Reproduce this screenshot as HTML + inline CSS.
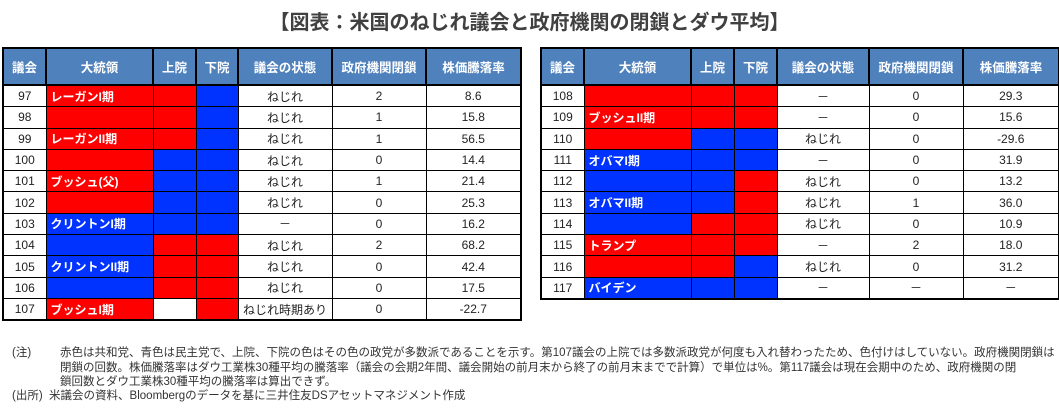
<!DOCTYPE html>
<html><head><meta charset="utf-8"><style>
body{margin:0;width:1059px;height:412px;background:#fff;font-family:"Liberation Sans","Noto Sans CJK JP",sans-serif;position:relative;overflow:hidden}
.title{position:absolute;top:6px;left:0;width:1059px;text-align:center;font-size:20px;font-weight:bold;color:#404040}
table{position:absolute;border-collapse:collapse;table-layout:fixed;font-size:12px;color:#222}
td,th{border:1px solid #000;height:20.3px;padding:0;text-align:center;overflow:hidden;white-space:nowrap}
th{background:#4f81bd;color:#fff;height:35px;font-weight:bold;font-size:12.5px;border:2px solid #000}
.R{background:#ff0000}.B{background:#0033ff}
.p{text-align:left!important;padding-left:4px!important;color:#fff;font-weight:bold}
table{border:2px solid #000}
.note{position:absolute;left:20px;font-size:11.5px;color:#333;line-height:14.5px;white-space:nowrap}
</style></head><body>
<div class="title">【図表：米国のねじれ議会と政府機関の閉鎖とダウ平均】</div>
<table style="left:2px;top:47px;width:518px">
<colgroup><col style="width:43px"><col style="width:107px"><col style="width:43px"><col style="width:42px"><col style="width:94px"><col style="width:94px"><col style="width:95px"></colgroup>
<tr><th>議会</th><th>大統領</th><th>上院</th><th>下院</th><th>議会の状態</th><th>政府機関閉鎖</th><th>株価騰落率</th></tr>
<tr><td>97</td><td class="R p">レーガンI期</td><td class="R"></td><td class="B"></td><td>ねじれ</td><td>2</td><td>8.6</td></tr>
<tr><td>98</td><td class="R p"></td><td class="R"></td><td class="B"></td><td>ねじれ</td><td>1</td><td>15.8</td></tr>
<tr><td>99</td><td class="R p">レーガンII期</td><td class="R"></td><td class="B"></td><td>ねじれ</td><td>1</td><td>56.5</td></tr>
<tr><td>100</td><td class="R p"></td><td class="B"></td><td class="B"></td><td>ねじれ</td><td>0</td><td>14.4</td></tr>
<tr><td>101</td><td class="R p">ブッシュ(父)</td><td class="B"></td><td class="B"></td><td>ねじれ</td><td>1</td><td>21.4</td></tr>
<tr><td>102</td><td class="R p"></td><td class="B"></td><td class="B"></td><td>ねじれ</td><td>0</td><td>25.3</td></tr>
<tr><td>103</td><td class="B p">クリントンI期</td><td class="B"></td><td class="B"></td><td>－</td><td>0</td><td>16.2</td></tr>
<tr><td>104</td><td class="B p"></td><td class="R"></td><td class="R"></td><td>ねじれ</td><td>2</td><td>68.2</td></tr>
<tr><td>105</td><td class="B p">クリントンII期</td><td class="R"></td><td class="R"></td><td>ねじれ</td><td>0</td><td>42.4</td></tr>
<tr><td>106</td><td class="B p"></td><td class="R"></td><td class="R"></td><td>ねじれ</td><td>0</td><td>17.5</td></tr>
<tr><td>107</td><td class="R p">ブッシュI期</td><td></td><td class="R"></td><td>ねじれ時期あり</td><td>0</td><td>-22.7</td></tr>
</table>
<table style="left:540px;top:47px;width:518px">
<colgroup><col style="width:43px"><col style="width:107px"><col style="width:43px"><col style="width:43px"><col style="width:92px"><col style="width:94px"><col style="width:96px"></colgroup>
<tr><th>議会</th><th>大統領</th><th>上院</th><th>下院</th><th>議会の状態</th><th>政府機関閉鎖</th><th>株価騰落率</th></tr>
<tr><td>108</td><td class="R p"></td><td class="R"></td><td class="R"></td><td>－</td><td>0</td><td>29.3</td></tr>
<tr><td>109</td><td class="R p">ブッシュII期</td><td class="R"></td><td class="R"></td><td>－</td><td>0</td><td>15.6</td></tr>
<tr><td>110</td><td class="R p"></td><td class="B"></td><td class="B"></td><td>ねじれ</td><td>0</td><td>-29.6</td></tr>
<tr><td>111</td><td class="B p">オバマI期</td><td class="B"></td><td class="B"></td><td>－</td><td>0</td><td>31.9</td></tr>
<tr><td>112</td><td class="B p"></td><td class="B"></td><td class="R"></td><td>ねじれ</td><td>0</td><td>13.2</td></tr>
<tr><td>113</td><td class="B p">オバマII期</td><td class="B"></td><td class="R"></td><td>ねじれ</td><td>1</td><td>36.0</td></tr>
<tr><td>114</td><td class="B p"></td><td class="R"></td><td class="R"></td><td>ねじれ</td><td>0</td><td>10.9</td></tr>
<tr><td>115</td><td class="R p">トランプ</td><td class="R"></td><td class="R"></td><td>－</td><td>2</td><td>18.0</td></tr>
<tr><td>116</td><td class="R p"></td><td class="R"></td><td class="B"></td><td>ねじれ</td><td>0</td><td>31.2</td></tr>
<tr><td>117</td><td class="B p">バイデン</td><td class="B"></td><td class="B"></td><td>－</td><td>－</td><td>－</td></tr>
</table>
<div class="note" style="top:346px;left:12px">(注)</div>
<div class="note" style="top:346px;left:60px">赤色は共和党、青色は民主党で、上院、下院の色はその色の政党が多数派であることを示す。第107議会の上院では多数派政党が何度も入れ替わったため、色付けはしていない。政府機関閉鎖は<br>閉鎖の回数。株価騰落率はダウ工業株30種平均の騰落率（議会の会期2年間、議会開始の前月末から終了の前月末までで計算）で単位は%。第117議会は現在会期中のため、政府機関の閉<br>鎖回数とダウ工業株30種平均の騰落率は算出できず。</div>
<div class="note" style="top:389px;left:12px">(出所)&nbsp; 米議会の資料、Bloombergのデータを基に三井住友DSアセットマネジメント作成</div>
</body></html>
